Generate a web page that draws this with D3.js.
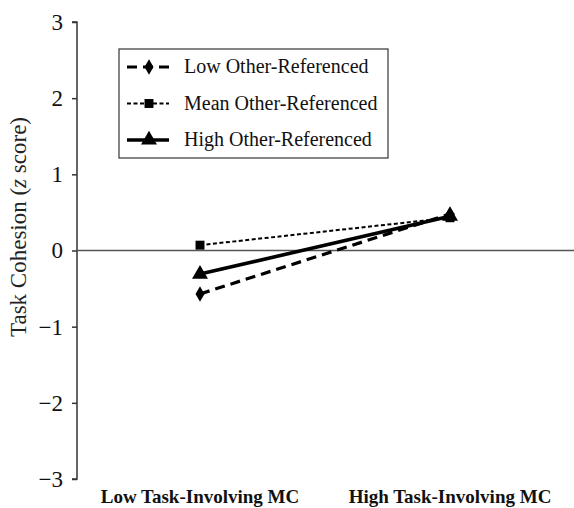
<!DOCTYPE html>
<html><head><meta charset="utf-8">
<script src="https://cdn.jsdelivr.net/npm/d3@7"></script>
<style>body{margin:0;background:#fff}svg{display:block}</style>
</head><body>
<svg id="c" width="574" height="508"></svg>
<script>
const categories = ["Low Task-Involving MC", "High Task-Involving MC"];
const seriesNames = ["Low Other-Referenced", "Mean Other-Referenced", "High Other-Referenced"];
const lowOther = [-0.57, 0.48];
const meanOther = [0.07, 0.43];
const highOther = [-0.31, 0.45];
const yTicks = [-3, -2, -1, 0, 1, 2, 3];

const series = [
  {name: seriesNames[0], values: lowOther, dash: "10,6", width: 3.2, marker: "diamond"},
  {name: seriesNames[1], values: meanOther, dash: "4,2.5", width: 2, marker: "square"},
  {name: seriesNames[2], values: highOther, dash: null, width: 3.6, marker: "triangle"}
];

const svg = d3.select("#c");
const font = "'Liberation Serif', 'Times New Roman', serif";
const y = d3.scaleLinear().domain([-3, 3]).range([479, 22]);
const x = d3.scalePoint().domain(categories).range([200, 450]);
const axisX = 77;

// y axis
const yAxis = svg.append("g").attr("transform", `translate(${axisX},0)`)
  .call(d3.axisLeft(y).tickValues(yTicks).tickSize(5).tickPadding(9)
    .tickFormat(d => d < 0 ? "\u2212" + Math.abs(d) : d));
yAxis.select(".domain").attr("d", `M-5,${y(3)}H0V${y(-3)}H-5`).attr("stroke", "#333").attr("stroke-width", 1.5);
yAxis.selectAll(".tick line").attr("stroke", "#333").attr("stroke-width", 1.5);
yAxis.selectAll(".tick text").attr("font-family", font).attr("font-size", 23).attr("fill", "#111");

// zero line
svg.append("line").attr("x1", axisX).attr("x2", 574).attr("y1", y(0)).attr("y2", y(0))
  .attr("stroke", "#555").attr("stroke-width", 1.5);

// y label
svg.append("text").attr("transform", `translate(26,227) rotate(-90)`)
  .attr("text-anchor", "middle").attr("font-family", font).attr("font-size", 23).attr("fill", "#222")
  .html('Task Cohesion (<tspan font-style="italic">z</tspan> score)');

// x labels
svg.append("g").selectAll("text").data(categories).join("text")
  .attr("x", d => x(d)).attr("y", 503).attr("text-anchor", "middle")
  .attr("font-family", font).attr("font-size", 19).attr("font-weight", "bold").attr("fill", "#111")
  .text(d => d);

function marker(g, type, cx, cy) {
  if (type === "diamond") {
    g.append("path").attr("d", d3.symbol(d3.symbolDiamond, 70)()).attr("transform", `translate(${cx},${cy})`).attr("fill", "#000");
  } else if (type === "square") {
    g.append("path").attr("d", d3.symbol(d3.symbolSquare, 80)()).attr("transform", `translate(${cx},${cy})`).attr("fill", "#000");
  } else {
    g.append("path").attr("d", d3.symbol(d3.symbolTriangle, 110)()).attr("transform", `translate(${cx},${cy})`).attr("fill", "#000");
  }
}

// lines
const line = d3.line().x((d, i) => x(categories[i])).y(d => y(d));
series.forEach(s => {
  const g = svg.append("g");
  g.append("path").attr("d", line(s.values)).attr("fill", "none").attr("stroke", "#000")
    .attr("stroke-width", s.width).attr("stroke-dasharray", s.dash);
  s.values.forEach((v, i) => marker(g, s.marker, x(categories[i]), y(v)));
});

// legend
const lg = svg.append("g");
lg.append("rect").attr("x", 119).attr("y", 49).attr("width", 269).attr("height", 109)
  .attr("fill", "#fff").attr("stroke", "#444").attr("stroke-width", 1.3);
series.forEach((s, i) => {
  const ly = 67 + i * 36.5;
  lg.append("line").attr("x1", 127).attr("x2", 169).attr("y1", ly).attr("y2", ly)
    .attr("stroke", "#000").attr("stroke-width", s.width).attr("stroke-dasharray", s.dash);
  marker(lg, s.marker, 149, ly);
  lg.append("text").attr("x", 184).attr("y", ly + 6).attr("font-family", font).attr("font-size", 20)
    .attr("fill", "#111").text(s.name);
});
</script>
</body></html>
